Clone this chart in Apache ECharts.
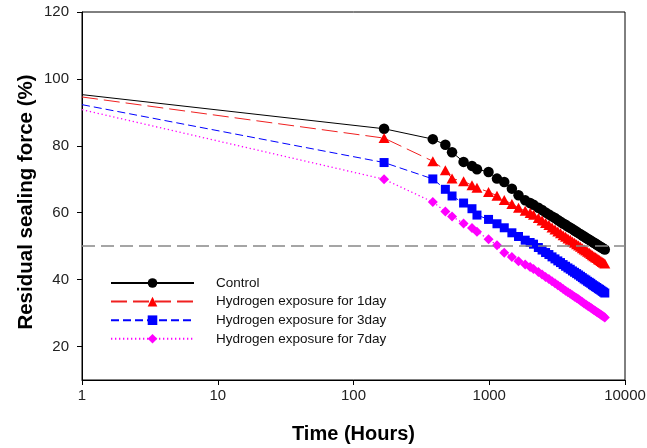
<!DOCTYPE html>
<html><head><meta charset="utf-8">
<script src="https://cdn.jsdelivr.net/npm/echarts@6/dist/echarts.min.js"></script>
<style>html,body{margin:0;padding:0;background:#fff}#c{width:647px;height:448px}</style>
</head><body><div id="c"></div>
<script>
var times = [1,168,384,475,532,647,746,812,988,1140,1290,1468,1643,1840,2000,2118,2300,2450,2600,2750,2900,3050,3200,3350,3500,3650,3800,3950,4100,4250,4400,4550,4700,4850,5000,5150,5300,5450,5600,5750,5900,6050,6200,6350,6500,6650,6800,6950,7100];
var control = [95.3,85.1,82.0,80.3,78.1,75.2,74.0,73.0,72.2,70.2,69.2,67.2,65.2,63.7,62.9,62.4,61.5,60.8,60.1,59.5,58.9,58.4,57.8,57.3,56.8,56.4,55.9,55.5,55.1,54.7,54.3,53.9,53.6,53.2,52.9,52.5,52.2,51.9,51.6,51.3,51.0,50.8,50.5,50.2,50.0,49.7,49.5,49.2,49.0];
var day1 = [94.6,82.3,75.4,72.7,70.2,69.4,68.2,67.5,66.2,65.1,63.8,62.6,61.5,60.6,59.9,59.4,58.4,57.65,56.9,56.3,55.6,55.0,54.4,53.9,53.3,52.8,52.3,51.9,51.4,51.0,50.6,50.2,49.8,49.4,49.0,48.7,48.3,48.0,47.7,47.3,47.0,46.7,46.45,46.1,45.9,45.6,45.3,45.05,44.8];
var day3 = [92.3,75.0,70.1,67.0,65.0,62.9,61.2,59.3,58.0,56.7,55.5,54.0,52.9,51.8,51.1,50.6,49.6,48.85,48.1,47.5,46.8,46.2,45.6,45.1,44.5,44.0,43.5,43.1,42.6,42.2,41.8,41.4,41.0,40.6,40.2,39.9,39.5,39.2,38.9,38.5,38.2,37.9,37.65,37.3,37.1,36.8,36.5,36.25,36.0];
var day7 = [90.8,70.0,63.2,60.4,58.9,56.8,55.4,54.3,52.1,50.3,48.0,46.8,45.5,44.5,43.8,43.2,42.3,41.55,40.8,40.2,39.5,38.9,38.3,37.8,37.2,36.7,36.2,35.8,35.3,34.9,34.5,34.1,33.7,33.3,32.9,32.6,32.2,31.9,31.6,31.2,30.9,30.6,30.35,30.0,29.8,29.5,29.2,28.95,28.7];
var seriesNames = ['Control','Hydrogen exposure for 1day','Hydrogen exposure for 3day','Hydrogen exposure for 7day'];
var xTicks = [1,10,100,1000,10000];
var yTicks = [20,40,60,80,100,120];
var threshold = 50;

function pts(vals){
  return times.map(function(t,i){
    return i===0 ? {value:[t,vals[i]], symbol:'none'} : [t,vals[i]];
  });
}
var FONT = 'Liberation Sans, Arial, sans-serif';
var chart = echarts.init(document.getElementById('c'), null, {renderer:'canvas'});
chart.setOption({
  animation:false,
  backgroundColor:'#fff',
  grid:{left:82,right:22,top:12,bottom:68,show:true,borderColor:'#000',borderWidth:1,backgroundColor:'transparent',outerBoundsMode:'none'},
  legend:{
    orient:'vertical', left:110, top:276, padding:0, itemWidth:83, itemHeight:12, itemGap:4.6,
    data:seriesNames,
    textStyle:{fontFamily:FONT,fontSize:13.5,color:'#111',padding:[0,0,0,17]}
  },
  xAxis:{
    type:'log', logBase:10, min:1, max:10000,
    name:'Time (Hours)', nameLocation:'middle', nameGap:44,
    nameTextStyle:{fontFamily:FONT,fontSize:20,fontWeight:'bold',color:'#000'},
    axisLine:{lineStyle:{color:'#000',width:1}},
    axisTick:{show:true,length:5,inside:false,lineStyle:{color:'#000'},customValues:xTicks},
    minorTick:{show:false},
    splitLine:{show:false},
    axisLabel:{fontFamily:FONT,fontSize:15,color:'#222',margin:8,customValues:xTicks,formatter:function(v){return String(Math.round(v));}}
  },
  yAxis:{
    type:'value', min:10, max:120,
    name:'Residual sealing force (%)', nameLocation:'middle', nameGap:45, nameMoveOverlap:false,
    nameTextStyle:{fontFamily:FONT,fontSize:20.5,fontWeight:'bold',color:'#000',padding:[0,12,0,0]},
    axisLine:{show:true,lineStyle:{color:'#000',width:1}},
    axisTick:{show:true,length:5,lineStyle:{color:'#000'},customValues:yTicks},
    splitLine:{show:false},
    axisLabel:{fontFamily:FONT,fontSize:15,color:'#222',margin:13,customValues:yTicks}
  },
  series:[
    {name:seriesNames[0],type:'line',data:pts(control),showAllSymbol:true,symbol:'circle',symbolSize:10.5,
     lineStyle:{color:'#000',width:1,type:'solid'},itemStyle:{color:'#000'},
     markLine:{silent:true,symbol:'none',label:{show:false},lineStyle:{color:'#888',width:1.5,type:[13,6]},data:[{yAxis:threshold}]}},
    {name:seriesNames[1],type:'line',data:pts(day1),showAllSymbol:true,symbol:'triangle',symbolSize:[11,10],
     lineStyle:{color:'#f02020',width:1,type:[16,6]},itemStyle:{color:'#ff0000'}},
    {name:seriesNames[2],type:'line',data:pts(day3),showAllSymbol:true,symbol:'rect',symbolSize:9,
     lineStyle:{color:'#0000ff',width:1,type:[8,4]},itemStyle:{color:'#0000ff'}},
    {name:seriesNames[3],type:'line',data:pts(day7),showAllSymbol:true,symbol:'diamond',symbolSize:10,
     lineStyle:{color:'#ff00ff',width:1.3,type:[1.3,2.7]},itemStyle:{color:'#ff00ff'}}
  ]
});
</script></body></html>
